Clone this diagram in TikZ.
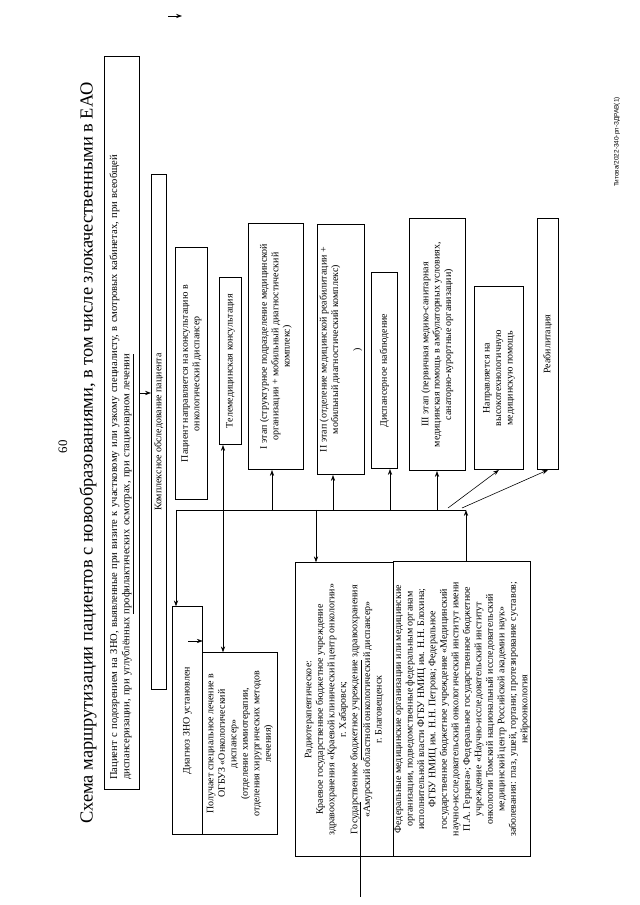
\documentclass[tikz,border=0pt]{standalone}
\usepackage{fontspec}
\setmainfont{Liberation Serif}
\newfontfamily\footfont{Liberation Sans}
\usetikzlibrary{positioning,arrows.meta}

\begin{document}
\begin{tikzpicture}[
    x=0.03cm, y=0.03cm,
    box/.style={rectangle, draw, line width=0.6pt, align=center, anchor=north west, inner sep=1pt, font=\fontsize{8.5}{9.8}\selectfont},
    arr/.style={-{Stealth[length=5pt,width=3.6pt]}, line width=0.5pt}
  ]
  \useasboundingbox (0,0) rectangle (639,905);
  % the page is drawn in landscape and turned a quarter round
  \begin{scope}[rotate=90, transform shape]
    \node[font=\fontsize{11}{13}\selectfont] (pg) at (458,-63) {60};
    \node[font=\fontsize{15.7}{19}\selectfont] (title) at (452,-88) {Схема маршрутизации пациентов с новообразованиями, в том числе злокачественными в ЕАО};
    \node[font=\footfont\fontsize{5.5}{6}\selectfont, anchor=east] (sign) at (812,-617) {Титова/2022-340-рп-ЗДРАВ(1)};

    \node[box, minimum width=21.99cm, minimum height=1.05cm, text width=21.4cm, align=left, font=\fontsize{9}{10.5}\selectfont] (susp) at (115,-104) {Пациент с подозрением на ЗНО, выявленные при визите к участковому или узкому специалисту, в смотровых кабинетах, при всеобщей\\диспансеризации, при углублённых \underline{профилактических осмотрах, при стационарном лечении}};
    \node[box, minimum width=15.45cm, minimum height=0.45cm] (exam) at (215,-151) {Комплексное обследование пациента};

    \node[box, minimum width=7.56cm, minimum height=0.96cm] (refer) at (405,-175) {Пациент направляется на консультацию в\\онкологический диспансер};
    \node[box, minimum width=5.01cm, minimum height=0.66cm] (tele) at (460,-219) {Телемедицинская консультация};
    \node[box, minimum width=7.38cm, minimum height=1.65cm] (stage1) at (435,-248) {I этап (структурное подразделение медицинской\\организации + мобильный диагностический\\комплекс)};
    \node[box, minimum width=7.5cm, minimum height=1.41cm] (stage2) at (430,-317) {II этап (отделение медицинской реабилитации +\\мобильный диагностический комплекс)\\[9pt])};
    \node[box, minimum width=5.88cm, minimum height=0.78cm] (follow) at (436,-371) {Диспансерное наблюдение};
    \node[box, minimum width=7.56cm, minimum height=1.68cm] (stage3) at (434,-409) {III этап (первичная медико-санитарная\\медицинская помощь в амбулаторных условиях,\\санаторно-курортные организации)};
    \node[box, minimum width=5.49cm, minimum height=1.47cm] (hitech) at (435,-474) {Направляется на\\высокотехнологичную\\медицинскую помощь};
    \node[box, minimum width=7.53cm, minimum height=0.63cm] (rehab) at (435,-537) {Реабилитация};

    \node[box, minimum width=6.84cm, minimum height=0.9cm] (diag) at (70,-172) {Диагноз ЗНО установлен};
    \node[box, minimum width=5.46cm, minimum height=2.25cm] (treat) at (70,-202) {Получает специальное лечение в\\ОГБУЗ «Онкологический\\диспансер»\\(отделение химиотерапии,\\отделения хирургических методов\\лечения)};
    \node[box, minimum width=8.82cm, minimum height=2.94cm] (radio) at (48,-295) {Радиотерапевтическое:\\Краевое государственное бюджетное учреждение\\здравоохранения «Краевой клинический центр онкологии»\\г. Хабаровск;\\Государственное \underline{бюджетное учреждение} здравоохранения\\«Амурский областной онкологический диспансер»\\г. Благовещенск};
    \node[box, minimum width=8.85cm, minimum height=4.05cm] (fed) at (48,-393) {Федеральные медицинские организации или медицинские\\организации, подведомственные федеральным органам\\исполнительной власти ФГБУ НМИЦ им. Н.Н. Блохина;\\ФГБУ НМИЦ им. Н.Н. Петрова; Федеральное\\государственное бюджетное учреждение «Медицинский\\научно-исследовательский онкологический институт имени\\П.А. Герцена»; Федеральное государственное бюджетное\\учреждение «Научно-исследовательский институт\\онкологии Томский национальный исследовательский\\медицинский центр Российской академии наук»\\заболевания: глаз, ушей, гортани; протезирование суставов;\\нейроонкология};

    % bus and branches
    \coordinate (bustop) at (395,-176);
    \coordinate (busbot) at (395,-466);
    \draw[line width=0.5pt] (bustop) -- (busbot);
    \coordinate (ab) at (512,-120);
    \draw[arr] (ab |- susp.south) -- (ab |- exam.north);
    \draw[arr] (bustop) -- (bustop -| diag.east);
    \coordinate (ptele) at (395,-223);
    \draw[arr] (ptele) -- (ptele -| tele.west); \draw[arr] (ptele) -- (ptele -| treat.east);
    \foreach \d/\n in {272/stage1, 333/stage2, 390/follow, 437/stage3} {
      \coordinate (p\n) at (395,-\d);
      \draw[arr] (p\n) -- (p\n -| \n.west);
    }
    \coordinate (pradio) at (395,-316);
    \draw[arr] (pradio) -- (pradio -| radio.east);
    \coordinate (phitech) at (397,-448); \coordinate (prehab) at (397,-462);
    \draw[arr] (phitech) -- (hitech.west); \draw[arr] (prehab) -- (rehab.west);
    \draw[arr] (busbot -| fed.east) -- (busbot);
    \coordinate (kk) at (264,-188);
    \draw[arr] (kk) -- (kk |- diag.south);
    \coordinate (leadin) at (103,-360); \coordinate (leadout) at (8,-360);
    \draw[line width=0.5pt] (leadin) -- (leadout);
    \coordinate (top0) at (889,-168); \coordinate (top1) at (889,-182);
    \draw[arr] (top0) -- (top1);
  \end{scope}
\end{tikzpicture}
\end{document}
